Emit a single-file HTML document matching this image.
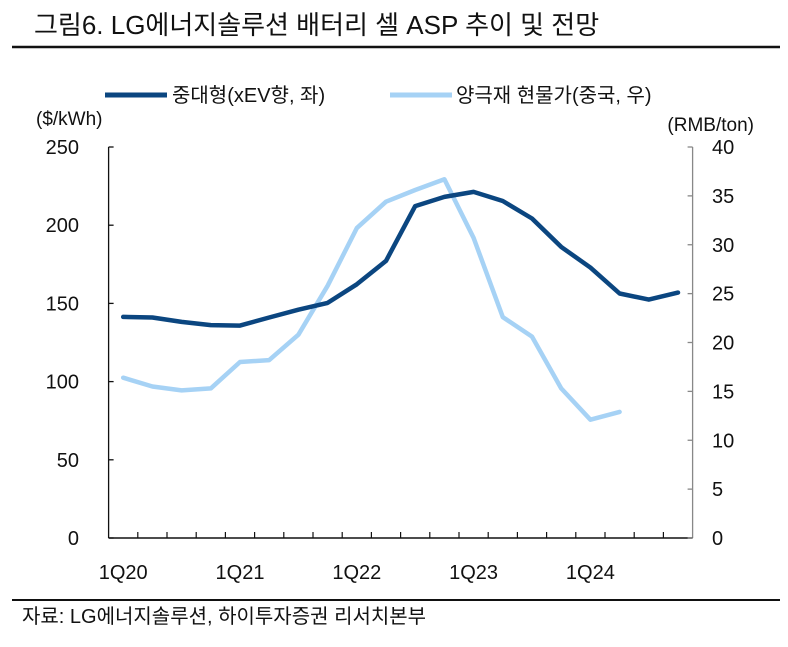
<!DOCTYPE html>
<html><head><meta charset="utf-8"><style>
html,body{margin:0;padding:0;background:#fff;}
body{width:788px;height:642px;overflow:hidden;font-family:"Liberation Sans","Noto Sans CJK KR",sans-serif;}
svg text{font-family:"Liberation Sans","Noto Sans CJK KR",sans-serif;}
</style></head><body>
<svg id="chart" width="788" height="642" xmlns="http://www.w3.org/2000/svg">
<text x="34" y="34" font-size="26" fill="#111">그림6. LG에너지솔루션 배터리 셀 ASP 추이 및 전망</text>
<line x1="12" y1="47" x2="780" y2="47" stroke="#111" stroke-width="2.5"/>
<g>
<g>
<line x1="105" y1="95" x2="167" y2="95" stroke="#0b4680" stroke-width="5"/>
<text x="172" y="102" font-size="20" fill="#111">중대형(xEV향, 좌)</text></g>
<g>
<line x1="390" y1="95" x2="452" y2="95" stroke="#a6d2f5" stroke-width="5"/>
<text x="456" y="102" font-size="20" fill="#111">양극재 현물가(중국, 우)</text></g>
</g>
<text x="36" y="125" font-size="19" fill="#111">($/kWh)</text>
<text x="754" y="131" font-size="19" fill="#111" text-anchor="end">(RMB/ton)</text>
<line x1="12" y1="600" x2="780" y2="600" stroke="#111" stroke-width="2"/>
<text x="22" y="623" font-size="20" fill="#111">자료: LG에너지솔루션, 하이투자증권 리서치본부</text>
<g id="plot"></g>
</svg>
<script>
const categories=["1Q20","2Q20","3Q20","4Q20","1Q21","2Q21","3Q21","4Q21","1Q22","2Q22","3Q22","4Q22","1Q23","2Q23","3Q23","4Q23","1Q24","2Q24","3Q24","4Q24"];
const aspValues=[141.4,141,138.2,136.1,135.8,141,146,150.3,162.2,177.2,212.2,218.1,221.3,215.5,204.3,186.1,172.9,156.3,152.4,156.9];
const cathodeValues=[16.4,15.5,15.1,15.3,18.0,18.2,20.8,25.8,31.7,34.4,35.6,36.7,30.7,22.6,20.6,15.3,12.1,12.9];
const leftTicks=[0,50,100,150,200,250];
const rightTicks=[0,5,10,15,20,25,30,35,40];
const xLabels=["1Q20","1Q21","1Q22","1Q23","1Q24"];

const NS="http://www.w3.org/2000/svg";
const g=document.getElementById('plot');
const X0=108.6,X1=692.6,Y0=538,Y1=147;
const band=(X1-X0)/categories.length;
const xs=i=>X0+band*(i+0.5);
const yl=v=>Y0-(v/250)*(Y0-Y1);
const yr=v=>Y0-(v/40)*(Y0-Y1);
function mk(t,a){const e=document.createElementNS(NS,t);for(const k in a)e.setAttribute(k,a[k]);g.appendChild(e);return e;}

let e=mk('line',{x1:X0,y1:Y1,x2:X0,y2:Y0,stroke:'#111','stroke-width':1.3});


e=mk('line',{x1:X1,y1:Y1,x2:X1,y2:Y0,stroke:'#888','stroke-width':1.3});


e=mk('line',{x1:X0,y1:Y0,x2:X1,y2:Y0,stroke:'#111','stroke-width':1.5});


leftTicks.forEach(v=>{
  mk('line',{x1:X0,y1:yl(v),x2:X0+5,y2:yl(v),stroke:'#111','stroke-width':1.3});
  const t=mk('text',{x:79,y:yl(v)+7,'font-size':20,'text-anchor':'end',fill:'#111'});t.textContent=v;
  
  
});
rightTicks.forEach(v=>{
  mk('line',{x1:X1-5,y1:yr(v),x2:X1,y2:yr(v),stroke:'#888','stroke-width':1.3});
  const t=mk('text',{x:712,y:yr(v)+7,'font-size':20,fill:'#111'});t.textContent=v;
  
  
});
for(let i=1;i<categories.length;i++){
  mk('line',{x1:X0+band*i,y1:Y0,x2:X0+band*i,y2:Y0-6,stroke:'#111','stroke-width':1.2});
}
categories.forEach((c,i)=>{
  if(xLabels.includes(c)){
    const t=mk('text',{x:xs(i),y:579,'font-size':20,'text-anchor':'middle',fill:'#111'});t.textContent=c;
    
    
  }
});
const lp=cathodeValues.map((v,i)=>xs(i).toFixed(1)+','+yr(v).toFixed(1)).join(' ');
e=mk('polyline',{points:lp,fill:'none',stroke:'#a6d2f5','stroke-width':4.5,'stroke-linejoin':'round','stroke-linecap':'round'});


const dp=aspValues.map((v,i)=>xs(i).toFixed(1)+','+yl(v).toFixed(1)).join(' ');
e=mk('polyline',{points:dp,fill:'none',stroke:'#0b4680','stroke-width':4.5,'stroke-linejoin':'round','stroke-linecap':'round'});


</script>
</body></html>
